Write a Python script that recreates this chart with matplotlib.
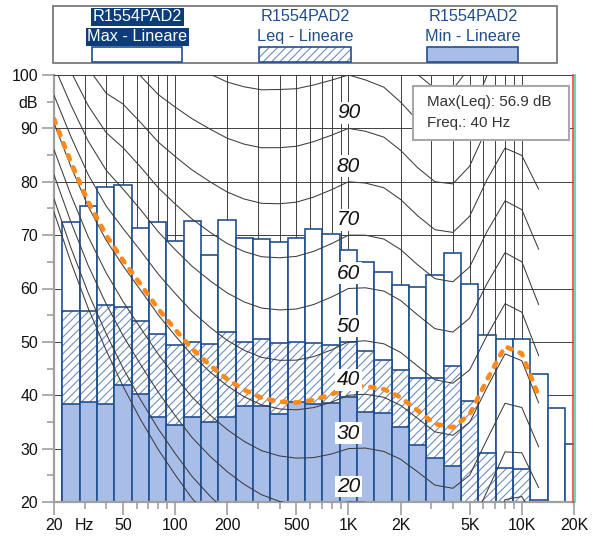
import numpy as np
import matplotlib.pyplot as plt
import matplotlib.transforms as mtransforms
from matplotlib.patches import Rectangle
from matplotlib.ticker import FixedLocator, FixedFormatter

plt.rcParams['font.family'] = ['Liberation Sans', 'DejaVu Sans']
plt.rcParams['hatch.linewidth'] = 0.8

# 1/3 octave bands, dB (values below 20 are not visible on the chart)
BANDS_HZ = [25, 31.5, 40, 50, 63, 80, 100, 125, 160, 200, 250, 315, 400, 500, 630,
            800, 1000, 1250, 1600, 2000, 2500, 3150, 4000, 5000, 6300, 8000, 10000,
            12500, 16000, 20000]
LMAX = [72.5, 75.5, 79.0, 79.4, 71.4, 72.5, 68.9, 72.7, 66.3, 72.9, 69.5, 69.3, 68.8,
        69.4, 71.2, 70.2, 67.2, 65.0, 63.1, 60.6, 60.3, 62.5, 66.7, 60.8, 51.3, 50.5,
        50.5, 44.0, 37.6, 30.9]
LEQ = [55.8, 55.7, 56.9, 56.6, 53.9, 51.5, 49.4, 49.9, 49.6, 51.8, 49.9, 50.5, 49.7,
       49.9, 49.7, 49.4, 49.9, 48.3, 46.6, 44.8, 43.2, 43.2, 45.5, 38.9, 29.1, 26.3,
       26.1, 20.4, 19.0, 18.0]
LMIN = [38.3, 38.8, 38.4, 42.0, 40.2, 35.9, 34.5, 35.9, 34.9, 35.9, 37.9, 38.0, 36.5,
        38.7, 38.3, 38.5, 39.7, 36.9, 36.7, 34.1, 30.7, 28.3, 26.8, 19.0, 18.0, 17.0,
        17.0, 15.0, 13.0, 11.0]

# ISO 226:1987 equal-loudness parameters
ISO_FREQ = [20, 25, 31.5, 40, 50, 63, 80, 100, 125, 160, 200, 250, 315, 400, 500, 630,
            800, 1000, 1250, 1600, 2000, 2500, 3150, 4000, 5000, 6300, 8000, 10000, 12500]
ISO_AF = [2.347, 2.190, 2.050, 1.879, 1.724, 1.579, 1.512, 1.466, 1.426, 1.394, 1.372,
          1.344, 1.304, 1.256, 1.203, 1.135, 1.062, 1.000, 0.967, 0.943, 0.932, 0.933,
          0.937, 0.952, 0.974, 1.027, 1.135, 1.266, 1.501]
ISO_BF = [0.00561, 0.00527, 0.00481, 0.00404, 0.00383, 0.00286, 0.00259, 0.00257,
          0.00256, 0.00255, 0.00254, 0.00248, 0.00229, 0.00201, 0.00162, 0.00111,
          0.00052, 0.0, -0.00039, -0.00067, -0.00092, -0.00105, -0.00104, -0.00088,
          -0.00055, 0.0, 0.00089, 0.00211, 0.00488]
ISO_TF = [74.3, 65.0, 56.3, 48.4, 41.7, 35.5, 29.8, 25.1, 20.7, 16.8, 13.8, 11.2, 8.9,
          7.2, 6.0, 5.0, 4.4, 4.2, 3.7, 2.6, 1.0, -1.2, -3.6, -3.9, -1.1, 6.6, 15.3,
          16.4, 11.6]
PHON_LINES = [4.2, 10, 20, 30, 40, 50, 60, 70, 80, 90, 100, 110]
PHON_LABELS = [20, 30, 40, 50, 60, 70, 80, 90]
LOUDNESS_PHON = 41.5

XTICKS_MAJOR = [20, 50, 100, 200, 500, 1000, 2000, 5000, 10000, 20000]
XTICK_LABELS = ['20', '50', '100', '200', '500', '1K', '2K', '5K', '10K', '20K']
XTICKS_MINOR = [30, 40, 60, 70, 80, 90, 300, 400, 600, 700, 800, 900,
                3000, 4000, 6000, 7000, 8000, 9000]
YTICKS = [20, 30, 40, 50, 60, 70, 80, 90, 100]
YTICKS_MINOR = [25, 35, 45, 55, 65, 75, 85, 95]

LEGEND_TOP = ['R1554PAD2', 'R1554PAD2', 'R1554PAD2']
LEGEND_BOT = ['Max - Lineare', 'Leq - Lineare', 'Min - Lineare']

EDGE = '#21508f'
HATCH_C = '#6f8dc0'
MIN_FILL = '#a9bde9'
GRID_C = '#404040'
AX_GRAY = '#a0a0a0'

W, H = 607, 540


def phon_curve(phon):
    af = np.array(ISO_AF)
    bf = np.array(ISO_BF)
    tf = np.array(ISO_TF)
    ln = phon - 4.2
    return tf + ln / (af - bf * ln)


def fx(x):
    return x / W


def fy(y):
    return 1 - y / H


fig = plt.figure(figsize=(W / 100, H / 100), dpi=100)
ax = fig.add_axes([fx(54), fy(502), 520 / W, 427 / H])

ax.set_xscale('log')
ax.set_xlim(20, 20000)
ax.set_ylim(20, 100)

# bands
centers = 10 ** (np.round(10 * np.log10(BANDS_HZ)) / 10)
lo = centers * 10 ** -0.05
wid = centers * 10 ** 0.05 - lo


def draw_bars(vals, **kw):
    v = np.array(vals)
    m = v > 20
    ax.bar(lo[m], v[m] - 20, width=wid[m], bottom=20, align='edge', **kw)


draw_bars(LMAX, facecolor='white', edgecolor=EDGE, linewidth=1.2, zorder=2)
draw_bars(LEQ, facecolor='white', edgecolor=HATCH_C, hatch='////', linewidth=0, zorder=2.1)
draw_bars(LEQ, facecolor='none', edgecolor=EDGE, linewidth=1.2, zorder=2.2)
draw_bars(LMIN, facecolor=MIN_FILL, edgecolor=EDGE, linewidth=1.2, zorder=2.3)

# equal loudness contours
for p in PHON_LINES:
    ax.plot(ISO_FREQ, phon_curve(p), color='#3c3c3c', lw=0.75, zorder=3)

ax.plot(ISO_FREQ, phon_curve(LOUDNESS_PHON), color='#ff8a1c', lw=3.4,
        linestyle=(0, (0.9, 1.85)), dash_capstyle='round', zorder=4)

for p in PHON_LABELS:
    ax.text(1000, p + 2.9, str(p), ha='center', va='center', fontsize=15,
            style='italic', color='#111111', zorder=5,
            bbox=dict(facecolor='white', edgecolor='none', pad=1.0))

# grid / ticks
ax.set_axisbelow(True)
ax.xaxis.set_major_locator(FixedLocator(XTICKS_MAJOR))
ax.xaxis.set_major_formatter(FixedFormatter(XTICK_LABELS))
ax.xaxis.set_minor_locator(FixedLocator(XTICKS_MINOR))
ax.xaxis.set_minor_formatter(FixedFormatter(['Hz'] + [''] * (len(XTICKS_MINOR) - 1)))
ax.yaxis.set_major_locator(FixedLocator(YTICKS))
ax.yaxis.set_major_formatter(FixedFormatter([str(t) for t in YTICKS]))
ax.yaxis.set_minor_locator(FixedLocator(YTICKS_MINOR))
ax.yaxis.set_minor_formatter(FixedFormatter([''] * 7 + ['dB']))

ax.grid(which='major', axis='both', color=GRID_C, lw=0.7)
ax.grid(which='minor', axis='x', color=GRID_C, lw=0.7)

ax.tick_params(which='major', length=9, width=1.2, color=AX_GRAY, labelsize=11.5,
               labelcolor='#111111', pad=2.5)
ax.tick_params(which='minor', length=5, width=1.2, color=AX_GRAY, labelsize=11.5,
               labelcolor='#111111', pad=6.5)

for s in ['left', 'bottom']:
    ax.spines[s].set_color(AX_GRAY)
    ax.spines[s].set_linewidth(1.6)
ax.spines['top'].set_color(GRID_C)
ax.spines['top'].set_linewidth(0.7)
ax.spines['right'].set_visible(False)

# cursor lines at the right edge
tr_red = mtransforms.offset_copy(ax.get_xaxis_transform(), fig=fig, x=-1.2, units='dots')
tr_green = mtransforms.offset_copy(ax.get_xaxis_transform(), fig=fig, x=0.6, units='dots')
ax.plot([20000, 20000], [0, 1], transform=tr_red, color='#ff3030', lw=1.1,
        clip_on=False, zorder=6)
ax.plot([20000, 20000], [0, 1], transform=tr_green, color='#2ad8a0', lw=1.1,
        clip_on=False, zorder=6)

# info box
fig.add_artist(Rectangle((fx(412.7), fy(140)), (569.3 - 412.7) / W, 54 / H,
                         transform=fig.transFigure, facecolor='white',
                         edgecolor='#a8a8a8', lw=1.5, zorder=10))
fig.text(fx(427.3), fy(101.7), 'Max(Leq): %.1f dB' % max(LEQ), ha='left', va='center',
         fontsize=10.9, color='#333333', zorder=11)
fig.text(fx(427.3), fy(123.3), 'Freq.: %g Hz' % BANDS_HZ[int(np.argmax(LEQ))],
         ha='left', va='center', fontsize=10.9, color='#333333', zorder=11)

# legend
fig.add_artist(Rectangle((fx(53.3), fy(63.3)), 504 / W, 57.8 / H,
                         transform=fig.transFigure, facecolor='white',
                         edgecolor='#707070', lw=1.2, zorder=10))
leg_x = [137.3, 305.0, 473.3]
patch_x = [(92.3, 182.3), (259.3, 350.7), (427.3, 518.3)]
for i in range(3):
    if i == 0:
        kw = dict(color='white', bbox=dict(facecolor='#0b3c7c', edgecolor='none', pad=1.2))
    else:
        kw = dict(color='#1f4e8a')
    fig.text(fx(leg_x[i]), fy(16.7), LEGEND_TOP[i], ha='center', va='center',
             fontsize=11.7, zorder=11, **kw)
    fig.text(fx(leg_x[i]), fy(36.7), LEGEND_BOT[i], ha='center', va='center',
             fontsize=11.7, zorder=11, **kw)
    x0, x1 = patch_x[i]
    rect = dict(transform=fig.transFigure, zorder=11)
    if i == 0:
        fig.add_artist(Rectangle((fx(x0), fy(61.7)), (x1 - x0) / W, 15 / H,
                                 facecolor='white', edgecolor=EDGE, lw=1.2, **rect))
    elif i == 1:
        fig.add_artist(Rectangle((fx(x0), fy(61.7)), (x1 - x0) / W, 15 / H,
                                 facecolor='white', edgecolor=HATCH_C, hatch='////',
                                 lw=0, **rect))
        fig.add_artist(Rectangle((fx(x0), fy(61.7)), (x1 - x0) / W, 15 / H,
                                 facecolor='none', edgecolor=EDGE, lw=1.2, **rect))
    else:
        fig.add_artist(Rectangle((fx(x0), fy(61.7)), (x1 - x0) / W, 15 / H,
                                 facecolor=MIN_FILL, edgecolor=EDGE, lw=1.2, **rect))

fig.savefig('out.png', dpi=100)
